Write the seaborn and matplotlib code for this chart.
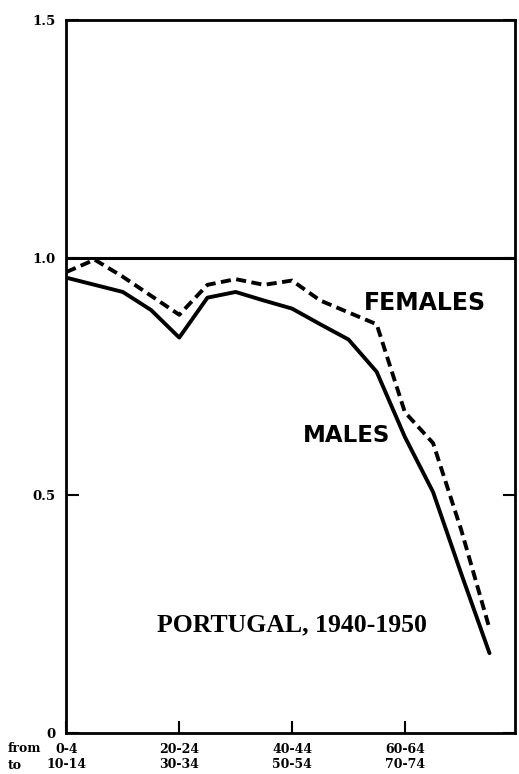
import matplotlib
matplotlib.use("Agg")
import matplotlib.pyplot as plt
import seaborn as sns
import pandas as pd

# cohort index: 0 = aged 0-4 in 1940 -> 10-14 in 1950, one step per 5-year group
cohort = list(range(16))
males = [0.958, 0.943, 0.928, 0.89, 0.832, 0.916, 0.928, 0.91,
         0.893, 0.86, 0.828, 0.76, 0.623, 0.507, 0.335, 0.168]
females = [0.97, 0.996, 0.96, 0.92, 0.88, 0.943, 0.955, 0.943,
           0.952, 0.91, 0.885, 0.86, 0.675, 0.61, 0.427, 0.22]

xtick_pos = [0, 4, 8, 12]
xtick_labels = ["0-4\n10-14", "20-24\n30-34", "40-44\n50-54", "60-64\n70-74"]
ytick_pos = [0, 0.5, 1.0, 1.5]
ytick_labels = ["0", "0.5", "1.0", "1.5"]

df = pd.DataFrame({
    "cohort": cohort * 2,
    "ratio": males + females,
    "sex": ["Males"] * len(males) + ["Females"] * len(females),
})

sns.set_style("ticks")
plt.rcParams["font.family"] = ["DejaVu Serif"]
plt.rcParams["text.color"] = "black"
plt.rcParams["xtick.color"] = "black"
plt.rcParams["ytick.color"] = "black"

fig = plt.figure(figsize=(5.19, 7.74), dpi=100)
ax = fig.add_axes([0.128, 0.053, 0.864, 0.921])

sns.lineplot(data=df, x="cohort", y="ratio", style="sex",
             dashes={"Males": "", "Females": (2.6, 1.4)},
             color="black", linewidth=2.8, legend=False, ax=ax)

ax.axhline(1.0, color="black", linewidth=2.2)

ax.set_xlim(0, 15.9)
ax.set_ylim(0, 1.5)
ax.set_xticks(xtick_pos)
ax.set_xticklabels(xtick_labels, fontsize=9, fontweight="bold", linespacing=1.25)
ax.set_yticks(ytick_pos)
ax.set_yticklabels(ytick_labels, fontsize=9.5, fontweight="bold")
ax.set_xlabel("")
ax.set_ylabel("")

ax.tick_params(axis="x", direction="in", length=9, width=1.5, pad=7)
ax.tick_params(axis="y", direction="in", length=9, width=1.5, pad=8, right=True)
for s in ax.spines.values():
    s.set_linewidth(2)
    s.set_color("black")

fig.text(0.015, 0.041, "from", ha="left", va="top", fontsize=9, fontweight="bold")
fig.text(0.015, 0.020, "to", ha="left", va="top", fontsize=9, fontweight="bold")

ax.text(12.7, 0.905, "FEMALES", family="DejaVu Sans", fontweight="bold",
        fontsize=17, ha="center", va="center")
ax.text(9.95, 0.625, "MALES", family="DejaVu Sans", fontweight="bold",
        fontsize=16.5, ha="center", va="center")
ax.text(3.2, 0.227, "PORTUGAL, 1940-1950", family="Liberation Serif",
        fontweight="bold", fontsize=18.5, ha="left", va="center")

fig.savefig("out.png", dpi=100)
